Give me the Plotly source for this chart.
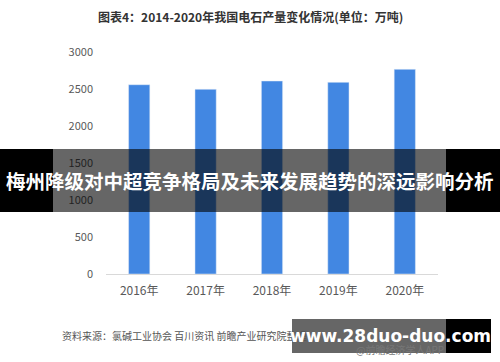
import plotly.graph_objects as go

years = ["2016年", "2017年", "2018年", "2019年", "2020年"]
output = [2558, 2496, 2608, 2590, 2766]
y_ticks = [0, 500, 1000, 1500, 2000, 2500, 3000]

W, H = 500, 362
L, R, T, B = 106, 62, 52, 88
PW, PH = W - L - R, H - T - B

def px(x):
    return (x - L) / PW

def py(y):
    return (H - B - y) / PH

FONT = "Noto Sans CJK SC, Microsoft YaHei, sans-serif"

fig = go.Figure()
fig.add_trace(go.Bar(x=years, y=output, marker_color="#4287E2", width=0.32,
                     hoverinfo="x+y"))

shapes = []
def rect(x0, x1, y0, y1, color):
    shapes.append(dict(type="rect", xref="paper", yref="paper",
                       x0=px(x0), x1=px(x1), y0=py(y1), y1=py(y0),
                       fillcolor=color, line=dict(width=0), layer="above"))

# overlay banner (middle)
rect(0, 53, 149, 212, "black")
rect(53, 446, 149, 212, "rgba(0,0,0,0.6)")
rect(446, 500, 149, 212, "black")
# bottom banner
rect(292, 446, 319, 353, "rgba(0,0,0,0.6)")
rect(446, 491, 319, 353, "black")

annotations = [
    dict(text="<b>图表4：2014-2020年我国电石产量变化情况(单位：万吨)</b>",
         x=px(250), y=py(16), xref="paper", yref="paper", showarrow=False,
         font=dict(family=FONT, size=12, color="#333333"), xanchor="center", yanchor="middle"),
    dict(text="资料来源：氯碱工业协会 百川资讯 前瞻产业研究院整理",
         x=px(60), y=py(335), xref="paper", yref="paper", showarrow=False,
         font=dict(family=FONT, size=10, color="#555555"), xanchor="left", yanchor="middle"),
    dict(text="@前瞻经济学人APP",
         x=px(446), y=py(349), xref="paper", yref="paper", showarrow=False,
         font=dict(family=FONT, size=10, color="#777777"), xanchor="right", yanchor="middle"),
    dict(text="<b>梅州降级对中超竞争格局及未来发展趋势的深远影响分析</b>",
         x=px(250), y=py(180), xref="paper", yref="paper", showarrow=False,
         font=dict(family=FONT, size=19.5, color="white"), xanchor="center", yanchor="middle"),
    dict(text="<b>www.28duo-duo.com</b>",
         x=px(390), y=py(336), xref="paper", yref="paper", showarrow=False,
         font=dict(family="DejaVu Sans, sans-serif", size=17, color="white"), xanchor="center", yanchor="middle"),
]

fig.update_layout(
    width=W, height=H,
    margin=dict(l=L, r=R, t=T, b=B),
    paper_bgcolor="white", plot_bgcolor="white",
    showlegend=False,
    shapes=shapes,
    annotations=annotations,
    font=dict(family=FONT),
)
fig.update_yaxes(range=[0, 3000], tickvals=y_ticks, showgrid=False, zeroline=False,
                 showline=False, ticks="", ticklabelstandoff=12,
                 tickfont=dict(family=FONT, size=11, color="#595959"))
fig.update_xaxes(showgrid=False, showline=True, linecolor="#d9d9d9", linewidth=1,
                 ticks="", ticklabelstandoff=6,
                 tickfont=dict(family=FONT, size=12, color="#595959"))

fig.write_html("out.html", config={"displayModeBar": False},
               post_script="document.body.style.margin='0';document.body.style.overflow='hidden';")
